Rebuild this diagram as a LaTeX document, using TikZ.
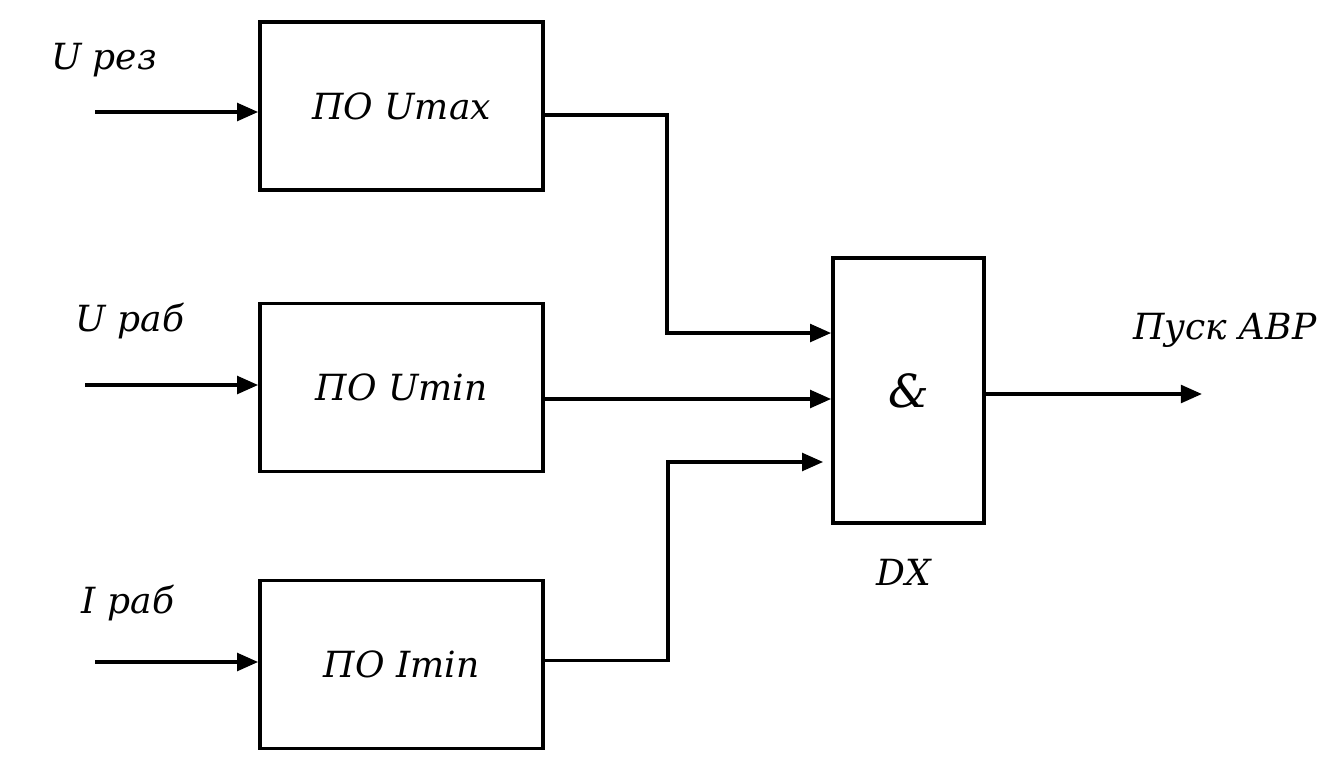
\documentclass[tikz,border=0pt]{standalone}
\usepackage{fontspec}
\setmainfont{DejaVu Serif}
\usetikzlibrary{arrows.meta, calc, positioning}

\tikzset{
    blok/.style={draw, line width=2.1pt, minimum width=5.66cm, minimum height=3.36cm, font=\fontsize{20.5}{24}\selectfont\itshape},
    ibox/.style={draw, line width=2.1pt, minimum width=3.02cm, minimum height=5.3cm, font=\fontsize{26}{30}\selectfont\itshape},
    metka/.style={font=\fontsize{20.5}{24}\selectfont\itshape, inner sep=0pt},
    strelka/.style={line width=2.1pt, -{Triangle[length=12pt, width=10pt]}}
}

\begin{document}
\begin{tikzpicture}[x=0.02cm, y=-0.02cm]
    \useasboundingbox (0,0) rectangle (1340,782);
    \fill[white] (0,0) rectangle (1340,782);

    % Measuring elements
    \node[blok] (pmax) at (401.5,106) {ПО Umax};
    \node[blok] (pmin) at (401.5,387.5) {ПО Umin};
    \node[blok] (imin) at (401.5,664.5) {ПО Imin};

    % AND element
    \node[ibox] (and) at (908.5,390.5) {\&};
    \node[metka] (dx) at ($(and.south)+(-5,48)$) {DX};

    % Inputs
    \coordinate (in1) at (95,112);
    \coordinate (in2) at (85,385);
    \coordinate (in3) at (95,662);
    \node[metka] (urez) at (104,60) {U рез};
    \node[metka] (urab) at (130,321) {U раб};
    \node[metka] (irab) at (128,603) {I раб};
    \draw[strelka] (in1) -- (pmax.west |- in1);
    \draw[strelka] (in2) -- (pmin.west |- in2);
    \draw[strelka] (in3) -- (imin.west |- in3);

    % Outputs to AND
    \draw[strelka] ([yshift=-0.18cm]pmax.east) -- ++(122,0) |- ([yshift=1.15cm]and.west);
    \draw[strelka] ([yshift=-0.23cm]pmin.east) -- ([yshift=-0.23cm]pmin.east -| and.west);
    \draw[strelka] ([yshift=0.08cm]imin.east) -- ++(123,0) |- ([xshift=-0.16cm, yshift=-1.43cm]and.west);

    % Start signal
    \coordinate (out) at (1202,394);
    \node[metka] (pusk) at (1225,330) {Пуск АВР};
    \draw[strelka] (and.east |- out) -- (out);

\end{tikzpicture}
\end{document}
